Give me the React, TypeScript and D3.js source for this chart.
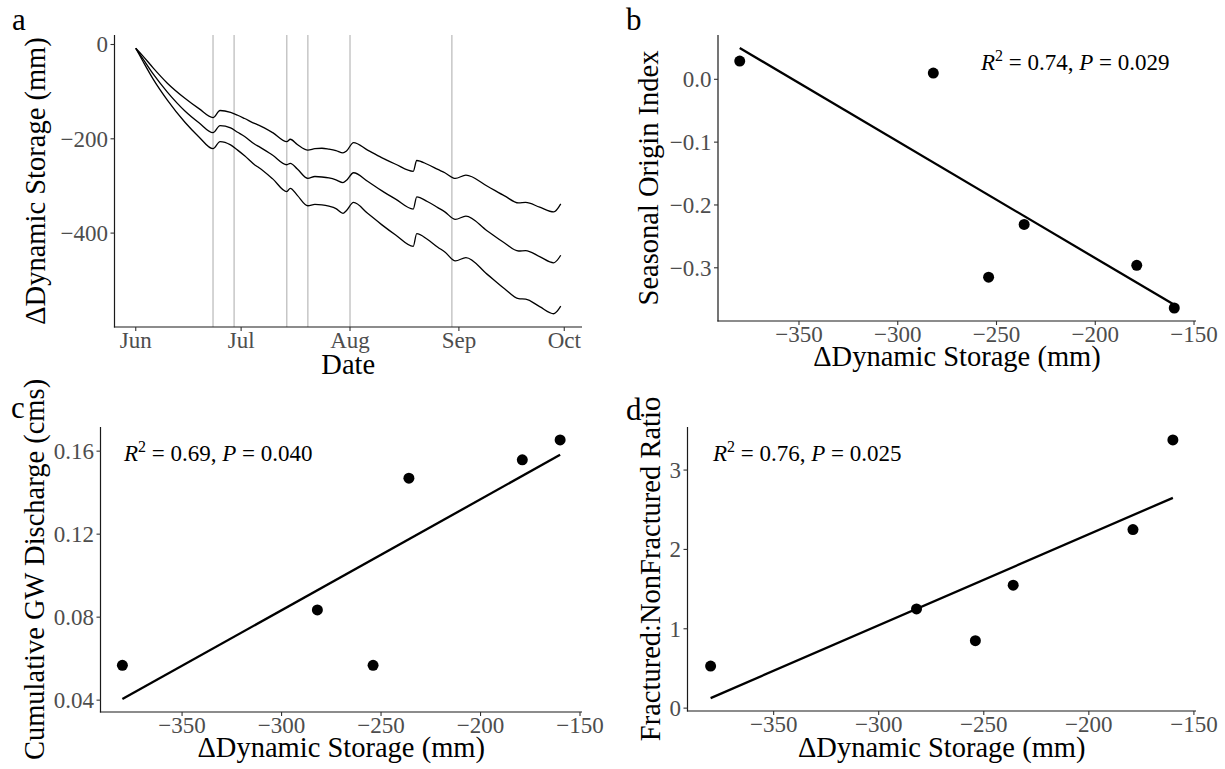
import React from "react";
import * as d3 from "d3";

// ---- panel a: storage change through the season (three estimates) ----
const dates = [
  "2019-06-01", "2019-06-03", "2019-06-06", "2019-06-10", "2019-06-15", "2019-06-19",
  "2019-06-23", "2019-06-25", "2019-06-28", "2019-06-30", "2019-07-02", "2019-07-05",
  "2019-07-06", "2019-07-10", "2019-07-14", "2019-07-15", "2019-07-17", "2019-07-20",
  "2019-07-22", "2019-07-24", "2019-07-26", "2019-07-28", "2019-07-30", "2019-07-31",
  "2019-08-02", "2019-08-06", "2019-08-10", "2019-08-14", "2019-08-19", "2019-08-20",
  "2019-08-23", "2019-08-26", "2019-08-28", "2019-08-31", "2019-09-03", "2019-09-09",
  "2019-09-14", "2019-09-18", "2019-09-20", "2019-09-24", "2019-09-28", "2019-09-30",
];
const upperStorage = [
  -8, -24, -50, -82, -114, -136, -155, -140, -144, -150, -157, -168, -171, -187, -206,
  -201, -212, -224, -221, -220, -222, -225, -230, -226, -208, -224, -240, -254, -269,
  -246, -254, -265, -272, -284, -277, -300, -321, -336, -335, -345, -355, -338,
];
const middleStorage = [
  -8, -30, -63, -101, -141, -166, -187, -172, -177, -186, -195, -212, -216, -235, -255,
  -252, -264, -284, -280, -281, -283, -287, -293, -288, -272, -290, -310, -328, -349,
  -323, -333, -346, -355, -371, -364, -395, -421, -438, -437, -450, -463, -447,
];
const lowerStorage = [
  -8, -35, -74, -118, -165, -196, -221, -206, -213, -224, -236, -256, -261, -285, -312,
  -305, -320, -342, -339, -340, -343, -348, -358, -352, -335, -358, -382, -404, -428,
  -401, -413, -430, -440, -459, -452, -487, -518, -539, -540, -556, -571, -555,
];
const eventDates = ["2019-06-23", "2019-06-29", "2019-07-14", "2019-07-20", "2019-08-01", "2019-08-30"];
const monthTicks = ["2019-06-01", "2019-07-01", "2019-08-01", "2019-09-01", "2019-10-01"];
const storageTimeTicks = [0, -200, -400];

// ---- panels b-d: site values against storage change ----
const storageChange = [-380, -282, -254, -236, -179, -160];
const seasonalOrigin = [0.029, 0.01, -0.315, -0.231, -0.296, -0.364];
const gwDischarge = [0.0568, 0.0835, 0.0568, 0.147, 0.1558, 0.1654];
const fracturedRatio = [0.53, 1.25, 0.85, 1.55, 2.25, 3.38];
const storageTicks = [-350, -300, -250, -200, -150];
const seasonalTicks = [0, -0.1, -0.2, -0.3];
const dischargeTicks = [0.04, 0.08, 0.12, 0.16];
const ratioTicks = [0, 1, 2, 3];
const statsB = ["0.74", "0.029"];
const statsC = ["0.69", "0.040"];
const statsD = ["0.76", "0.025"];

const FONT = '"Liberation Serif", "Times New Roman", Times, serif';
const TICK_COLOR = "#4d4d4d";
const parseDay = d3.utcParse("%Y-%m-%d");

const expand = (ext, f = 0.05) => {
  const span = ext[1] - ext[0];
  return [ext[0] - span * f, ext[1] + span * f];
};

function linearFit(xs, ys) {
  const mx = d3.mean(xs);
  const my = d3.mean(ys);
  let sxy = 0;
  let sxx = 0;
  xs.forEach((x, i) => {
    sxy += (x - mx) * (ys[i] - my);
    sxx += (x - mx) * (x - mx);
  });
  const slope = sxy / sxx;
  return (x) => my + slope * (x - mx);
}

function AxisLines({ box }) {
  return (
    <g stroke="#1a1a1a" strokeWidth={1.2}>
      <line x1={box.left} x2={box.left} y1={box.top} y2={box.bottom + 0.6} />
      <line x1={box.left - 0.6} x2={box.right} y1={box.bottom} y2={box.bottom} />
    </g>
  );
}

function YTicks({ box, y, ticks, fmt }) {
  return (
    <g>
      {ticks.map((t) => (
        <g key={t}>
          <line x1={box.left - 4} x2={box.left} y1={y(t)} y2={y(t)} stroke="#333" strokeWidth={1.1} />
          <text x={box.left - 6.5} y={y(t)} dy="0.34em" textAnchor="end" fontSize={23} fill={TICK_COLOR}>
            {fmt(t)}
          </text>
        </g>
      ))}
    </g>
  );
}

function XTicks({ box, x, ticks, fmt }) {
  return (
    <g>
      {ticks.map((t, i) => (
        <g key={i}>
          <line x1={x(t)} x2={x(t)} y1={box.bottom} y2={box.bottom + 4} stroke="#333" strokeWidth={1.1} />
          <text x={x(t)} y={box.bottom + 21} textAnchor="middle" fontSize={23} fill={TICK_COLOR}>
            {fmt(t)}
          </text>
        </g>
      ))}
    </g>
  );
}

function Titles({ box, xTitle, yTitle, xTitleY, yTitleX, letter, letterPos }) {
  const cx = (box.left + box.right) / 2;
  const cy = (box.top + box.bottom) / 2;
  return (
    <g fill="#000">
      <text x={cx} y={xTitleY} textAnchor="middle" fontSize={28.5}>
        {xTitle}
      </text>
      <text transform={`translate(${yTitleX},${cy}) rotate(-90)`} textAnchor="middle" fontSize={28.5}>
        {yTitle}
      </text>
      <text x={letterPos[0]} y={letterPos[1]} fontSize={31}>
        {letter}
      </text>
    </g>
  );
}

function StoragePanel() {
  const box = { left: 114.5, right: 582, top: 35, bottom: 327 };
  const days = dates.map(parseDay);
  const x = d3
    .scaleUtc()
    .domain(expand(d3.extent(days, (d) => +d)).map((v) => new Date(v)))
    .range([box.left, box.right]);
  const all = [...upperStorage, ...middleStorage, ...lowerStorage];
  const y = d3.scaleLinear().domain(expand(d3.extent(all))).range([box.bottom, box.top]);
  const line = d3
    .line()
    .x((d) => x(d[0]))
    .y((d) => y(d[1]))
    .curve(d3.curveMonotoneX);
  const series = [upperStorage, middleStorage, lowerStorage];
  const fmtY = d3.format("d");
  const fmtMonth = d3.utcFormat("%b");
  return (
    <g>
      {eventDates.map((d) => (
        <line
          key={d}
          x1={x(parseDay(d))}
          x2={x(parseDay(d))}
          y1={box.top}
          y2={box.bottom}
          stroke="#bebebe"
          strokeWidth={1.3}
        />
      ))}
      {series.map((vals, i) => (
        <path
          key={i}
          d={line(vals.map((v, j) => [days[j], v]))}
          fill="none"
          stroke="#000"
          strokeWidth={1.3}
        />
      ))}
      <AxisLines box={box} />
      <YTicks box={box} y={y} ticks={storageTimeTicks} fmt={fmtY} />
      <XTicks box={box} x={x} ticks={monthTicks.map(parseDay)} fmt={fmtMonth} />
      <Titles
        box={box}
        xTitle="Date"
        yTitle="ΔDynamic Storage (mm)"
        xTitleY={374}
        yTitleX={44.5}
        letter="a"
        letterPos={[12, 30]}
      />
    </g>
  );
}

function ScatterPanel({ box, ys, yTicks, yFmt, yTitle, letter, letterPos, yTitleX, xTitleY, stats, statPos }) {
  const x = d3.scaleLinear().domain(expand(d3.extent(storageChange))).range([box.left, box.right]);
  const fit = linearFit(storageChange, ys);
  const [xMin, xMax] = d3.extent(storageChange);
  const y = d3
    .scaleLinear()
    .domain(expand(d3.extent([...ys, fit(xMin), fit(xMax)])))
    .range([box.bottom, box.top]);
  const fitLine = d3
    .line()
    .x((d) => x(d))
    .y((d) => y(fit(d)));
  const fmtX = d3.format("d");
  return (
    <g>
      <path d={fitLine([xMin, xMax])} stroke="#000" strokeWidth={2.3} fill="none" />
      {storageChange.map((v, i) => (
        <circle key={i} cx={x(v)} cy={y(ys[i])} r={5.5} fill="#000" />
      ))}
      <AxisLines box={box} />
      <YTicks box={box} y={y} ticks={yTicks} fmt={yFmt} />
      <XTicks box={box} x={x} ticks={storageTicks} fmt={fmtX} />
      <text x={statPos[0]} y={statPos[1]} fontSize={23} fill="#000">
        <tspan fontStyle="italic">R</tspan>
        <tspan fontSize={16} dy={-9}>2</tspan>
        <tspan dy={9}>{` = ${stats[0]}, `}</tspan>
        <tspan fontStyle="italic">P</tspan>
        <tspan>{` = ${stats[1]}`}</tspan>
      </text>
      <Titles
        box={box}
        xTitle="ΔDynamic Storage (mm)"
        yTitle={yTitle}
        xTitleY={xTitleY}
        yTitleX={yTitleX}
        letter={letter}
        letterPos={letterPos}
      />
    </g>
  );
}

export default function App() {
  return (
    <svg
      width={1225}
      height={769}
      style={{ position: "absolute", left: 0, top: 0, background: "#fff", fontFamily: FONT }}
    >
      <rect width={1225} height={769} fill="#fff" />
      <StoragePanel />
      <ScatterPanel
        box={{ left: 718, right: 1196, top: 35, bottom: 321 }}
        ys={seasonalOrigin}
        yTicks={seasonalTicks}
        yFmt={d3.format(".1f")}
        yTitle="Seasonal Origin Index"
        letter="b"
        letterPos={[626, 30]}
        yTitleX={658}
        xTitleY={366}
        stats={statsB}
        statPos={[981, 70]}
      />
      <ScatterPanel
        box={{ left: 100.5, right: 582, top: 427, bottom: 712 }}
        ys={gwDischarge}
        yTicks={dischargeTicks}
        yFmt={d3.format(".2f")}
        yTitle="Cumulative GW Discharge (cms)"
        letter="c"
        letterPos={[11, 418]}
        yTitleX={44}
        xTitleY={757}
        stats={statsC}
        statPos={[124, 461]}
      />
      <ScatterPanel
        box={{ left: 687.5, right: 1196, top: 427, bottom: 711 }}
        ys={fracturedRatio}
        yTicks={ratioTicks}
        yFmt={d3.format("d")}
        yTitle="Fractured:NonFractured Ratio"
        letter="d"
        letterPos={[626, 420]}
        yTitleX={660}
        xTitleY={757}
        stats={statsD}
        statPos={[713, 461]}
      />
    </svg>
  );
}
